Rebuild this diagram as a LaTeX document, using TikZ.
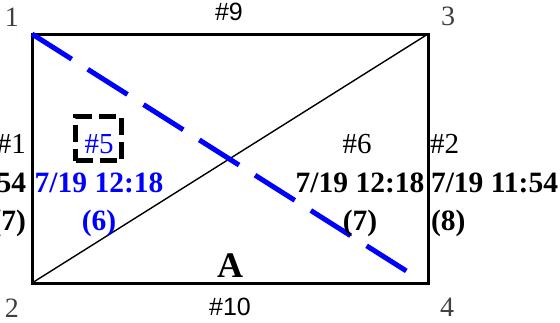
\documentclass[tikz,border=0pt]{standalone}
\usepackage{fontspec}
\setmainfont{Liberation Serif}
\newfontfamily\sanslab{Liberation Sans}
\begin{document}
\begin{tikzpicture}[x=1pt,y=-1pt,
  txt/.style={inner sep=0pt, outer sep=0pt, font=\fontsize{29}{31}\selectfont},
  bold/.style={txt, font=\fontsize{29.5}{31}\selectfont\bfseries},
  cornerlab/.style={inner sep=0pt, text=black!75, anchor=base, font=\fontsize{28}{30}\selectfont},
  edgelab/.style={inner sep=0pt, anchor=base, font=\sanslab\fontsize{25}{27}\selectfont},
  bluetxt/.style={text=blue},
  border/.style={line width=3pt, line join=miter},
  diag/.style={line width=1.4pt},
  bluedash/.style={draw=blue, line width=5pt, dash pattern=on 47pt off 19pt},
  dbox/.style={draw, line width=4.5pt, dash pattern=on 17pt off 7pt, minimum width=46pt, minimum height=44pt, inner sep=0pt}
]
\useasboundingbox (0,0) rectangle (560,322);
\coordinate (c1) at (32,34);
\coordinate (c3) at (428,34);
\coordinate (c2) at (32,283);
\coordinate (c4) at (428,283);
\coordinate (bend) at (408,272);
% diagonal and border
\draw[diag] (c2) -- (c3);
\draw[border] (c1) -- (c3) -- (c4) -- (c2) -- cycle;
\draw[bluedash] (c1) -- (bend);
% dashed box
\node[dbox] (b5) at (98.5,138.5) {};
% corner labels
\node[cornerlab] (n1) at (12,26) {1};
\node[cornerlab] (n3) at (448,25) {3};
\node[cornerlab] (n2) at (12,317) {2};
\node[cornerlab] (n4) at (447,316) {4};
% edge labels
\node[edgelab] (e9) at (229,20) {\#9};
\node[edgelab] (e10) at (230,315) {\#10};
% left column
\node[txt, anchor=base east] (l1) at (26,153) {\#1};
\node[bold, anchor=base east] (l2) at (26,192) {7/19 11:54};
\node[bold, anchor=base east] (l3) at (26,230) {(7)};
% middle column (blue)
\node[txt, bluetxt, anchor=base] (m1) at (99,153) {\#5};
\node[bold, bluetxt, anchor=base] (m2) at (99,192) {7/19 12:18};
\node[bold, bluetxt, anchor=base] (m3) at (99,230) {(6)};
% right middle column
\node[txt, anchor=base] (r1) at (357,153) {\#6};
\node[bold, anchor=base] (r2) at (360,192) {7/19 12:18};
\node[bold, anchor=base] (r3) at (360,230) {(7)};
% right column
\node[txt, anchor=base west] (s1) at (430,153) {\#2};
\node[bold, anchor=base west] (s2) at (431,192) {7/19 11:54};
\node[bold, anchor=base west] (s3) at (431,230) {(8)};
% A
\node[inner sep=0pt, anchor=base, font=\fontsize{36}{38}\selectfont\bfseries] (a) at (230,277) {A};
\end{tikzpicture}
\end{document}
